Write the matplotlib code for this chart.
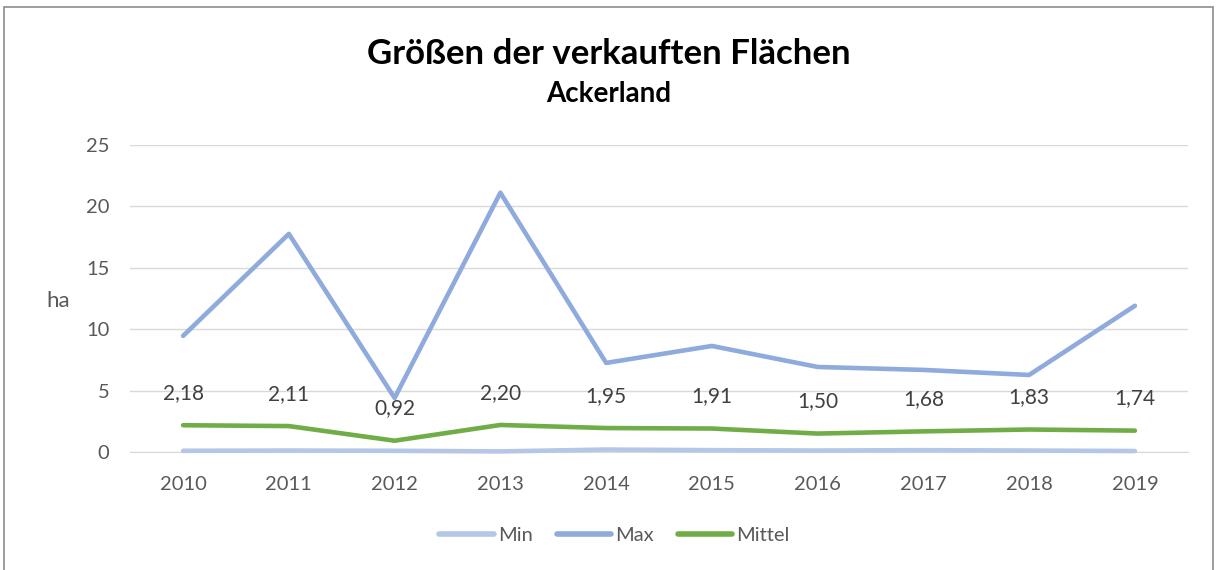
import matplotlib
matplotlib.use("Agg")
import matplotlib.pyplot as plt
import matplotlib.patches as patches

years = ["2010", "2011", "2012", "2013", "2014", "2015", "2016", "2017", "2018", "2019"]
min_vals = [0.10, 0.12, 0.10, 0.05, 0.20, 0.15, 0.12, 0.15, 0.12, 0.08]
max_vals = [9.45, 17.75, 4.40, 21.10, 7.25, 8.63, 6.92, 6.68, 6.27, 11.90]
mittel_vals = [2.18, 2.11, 0.92, 2.20, 1.95, 1.91, 1.50, 1.68, 1.83, 1.74]

plt.rcParams['font.family'] = ['Lato', 'DejaVu Sans']

fig = plt.figure(figsize=(12.17, 5.70), dpi=100)
# outer frame like the office chart border
fig.patches.append(patches.Rectangle((0.003, -0.01), 0.994, 0.998, transform=fig.transFigure,
                                     fill=False, edgecolor='#8c8c8c', lw=1.2))

ax = fig.add_axes([0.107, 0.207, 0.869, 0.539])
x = list(range(len(years)))

ax.plot(x, min_vals, color='#B4C7E7', lw=3.3, solid_capstyle='round', label='Min', clip_on=False, zorder=3)
ax.plot(x, max_vals, color='#8FAADC', lw=3.3, solid_capstyle='round', label='Max', clip_on=False, zorder=3)
ax.plot(x, mittel_vals, color='#70AD47', lw=3.3, solid_capstyle='round', label='Mittel', clip_on=False, zorder=3)

for xi, v in zip(x, mittel_vals):
    ax.annotate(f"{v:.2f}".replace('.', ','), (xi, v), xytext=(0, 16), textcoords='offset points',
                ha='center', va='bottom', fontsize=15, color='#404040')

ax.set_xlim(-0.5, len(years) - 0.5)
ax.set_ylim(0, 25)
ax.set_yticks([0, 5, 10, 15, 20, 25])
ax.set_xticks(x)
ax.set_xticklabels(years)
ax.grid(axis='y', color='#d9d9d9', lw=1)
ax.set_axisbelow(True)
for s in ['top', 'right', 'left']:
    ax.spines[s].set_visible(False)
ax.spines['bottom'].set_color('#d9d9d9')
ax.tick_params(length=0, labelsize=14.5, labelcolor='#595959')
ax.tick_params(axis='x', pad=17)
ax.tick_params(axis='y', pad=15)

ax.set_ylabel('ha', rotation=0, fontsize=16, color='#595959', va='center', ha='center')
ax.yaxis.set_label_coords(-0.068, 0.49)

fig.text(0.5, 0.905, 'Größen der verkauften Flächen', ha='center', va='center',
         fontsize=25, fontweight='bold', color='black')
fig.text(0.5, 0.835, 'Ackerland', ha='center', va='center',
         fontsize=20, fontweight='bold', color='black')

leg = fig.legend(loc='center', bbox_to_anchor=(0.505, 0.06), ncol=3, frameon=False,
                 fontsize=14.5, handlelength=2.7, handletextpad=0.2, columnspacing=1.2)
for t in leg.get_texts():
    t.set_color('#595959')
for h in leg.get_lines():
    h.set_linewidth(4)

fig.savefig('out.png', dpi=100)
